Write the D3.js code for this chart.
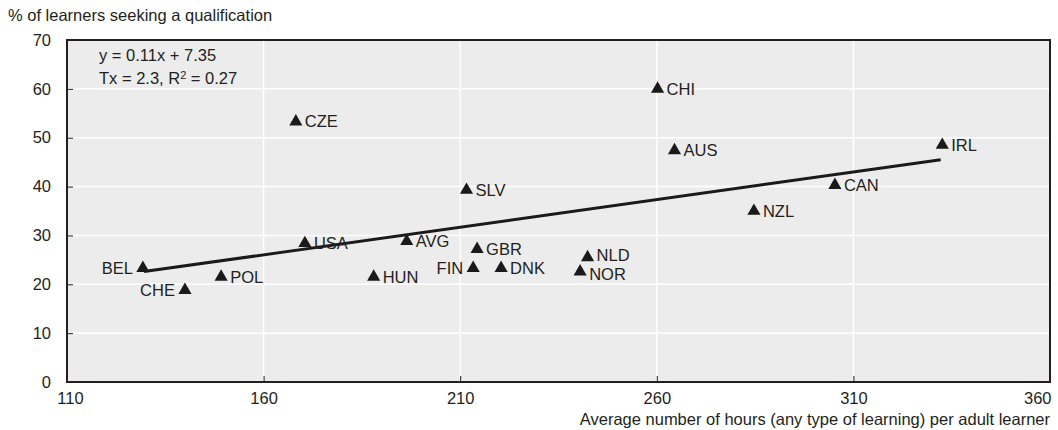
<!DOCTYPE html>
<html>
<head>
<meta charset="utf-8">
<script src="https://cdn.jsdelivr.net/npm/d3@7"></script>
<style>
  body { margin: 0; background: #fff; }
  svg text { font-family: "Liberation Sans", Arial, sans-serif; fill: #231f20; }
</style>
</head>
<body>
<div id="chart"></div>
<script>
// country codes, hours per learner, % seeking a qualification
const countries = ["BEL","CHE","POL","USA","CZE","HUN","AVG","SLV","FIN","GBR","DNK","NOR","NLD","CHI","AUS","NZL","CAN","IRL"];
const hours     = [129.3, 140, 149.2, 170.5, 168.2, 188, 196.4, 211.6, 213.3, 214.3, 220.4, 240.5, 242.4, 260.2, 264.5, 284.7, 305.3, 332.6];
const qualif    = [23.3, 18.8, 21.5, 28.4, 53.3, 21.5, 28.8, 39.3, 23.3, 27.2, 23.3, 22.6, 25.5, 60, 47.4, 35, 40.3, 48.5];
// labels drawn left of the marker
const leftLabels = ["BEL","CHE","FIN"];
// small vertical nudges so crowded labels don't collide
const labelNudge = {NLD: -2, NOR: 3};

// fitted line end points
const trendX = [129.6, 332.2];
const trendY = [22.6, 45.5];

const xTicks = [110, 160, 210, 260, 310, 360];
const yTicks = [0, 10, 20, 30, 40, 50, 60, 70];

const width = 1058, height = 430;
const margin = {top: 40, right: 8, bottom: 48, left: 67};
const fs = 16.5;

const svg = d3.select("#chart").append("svg")
    .attr("width", width)
    .attr("height", height);

const x = d3.scaleLinear().domain([110, 360]).range([margin.left, width - margin.right]);
const y = d3.scaleLinear().domain([0, 70]).range([height - margin.bottom, margin.top]);

// plot background
svg.append("rect")
    .attr("x", x(110)).attr("y", y(70))
    .attr("width", x(360) - x(110)).attr("height", y(0) - y(70))
    .attr("fill", "#ececec");

// white grid
svg.append("g").selectAll("line").data(xTicks.slice(1, -1)).join("line")
    .attr("x1", d => x(d)).attr("x2", d => x(d))
    .attr("y1", y(0)).attr("y2", y(70))
    .attr("stroke", "#fff").attr("stroke-width", 1.5);
svg.append("g").selectAll("line").data(yTicks.slice(1, -1)).join("line")
    .attr("x1", x(110)).attr("x2", x(360))
    .attr("y1", d => y(d)).attr("y2", d => y(d))
    .attr("stroke", "#fff").attr("stroke-width", 1.5);

// axes (ticks pointing inwards)
const xAxis = svg.append("g")
    .attr("transform", `translate(0,${y(0)})`)
    .call(d3.axisBottom(x).tickValues(xTicks).tickSize(-6).tickPadding(10).tickFormat(d3.format("d")));
xAxis.select(".domain").remove();
xAxis.selectAll("line").attr("stroke", "#231f20");
xAxis.selectAll("text").attr("font-size", fs).attr("fill", "#231f20")
    .attr("text-anchor", d => d === 360 ? "end" : "middle")
    .attr("dx", d => d === 360 ? 1 : (d === 110 ? 3 : 0));

const yAxis = svg.append("g")
    .attr("transform", `translate(${x(110)},0)`)
    .call(d3.axisLeft(y).tickValues(yTicks).tickSize(-6).tickPadding(16));
yAxis.select(".domain").remove();
yAxis.selectAll("line").attr("stroke", "#231f20");
yAxis.selectAll("text").attr("font-size", fs).attr("fill", "#231f20");

// frame
svg.append("rect")
    .attr("x", x(110)).attr("y", y(70))
    .attr("width", x(360) - x(110)).attr("height", y(0) - y(70))
    .attr("fill", "none").attr("stroke", "#231f20").attr("stroke-width", 2);

// trend line
svg.append("line")
    .attr("x1", x(trendX[0])).attr("y1", y(trendY[0]))
    .attr("x2", x(trendX[1])).attr("y2", y(trendY[1]))
    .attr("stroke", "#1a1a1a").attr("stroke-width", 3);

const pts = countries.map((c, i) => ({c, h: hours[i], q: qualif[i]}));

svg.append("g").selectAll("path").data(pts).join("path")
    .attr("d", d3.symbol(d3.symbolTriangle, 75))
    .attr("transform", d => `translate(${x(d.h)},${y(d.q)})`)
    .attr("fill", "#1a1a1a");

svg.append("g").selectAll("text").data(pts).join("text")
    .attr("x", d => x(d.h) + (leftLabels.includes(d.c) ? -10 : 9))
    .attr("y", d => y(d.q) + (labelNudge[d.c] || 0))
    .attr("dy", "0.35em")
    .attr("text-anchor", d => leftLabels.includes(d.c) ? "end" : "start")
    .attr("font-size", fs)
    .text(d => d.c);

// equation
const eq = svg.append("text").attr("x", 99).attr("font-size", fs);
eq.append("tspan").attr("x", 99).attr("y", 61).text("y = 0.11x + 7.35");
eq.append("tspan").attr("x", 99).attr("y", 84).text("Tx = 2.3, R");
eq.append("tspan").attr("font-size", 11).attr("dy", -5).text("2");
eq.append("tspan").attr("dy", 5).text(" = 0.27");

// axis titles
svg.append("text").attr("x", 8).attr("y", 21).attr("font-size", fs)
    .text("% of learners seeking a qualification");
svg.append("text").attr("x", x(360)).attr("y", 425).attr("font-size", fs)
    .attr("text-anchor", "end")
    .text("Average number of hours (any type of learning) per adult learner");
</script>
</body>
</html>
